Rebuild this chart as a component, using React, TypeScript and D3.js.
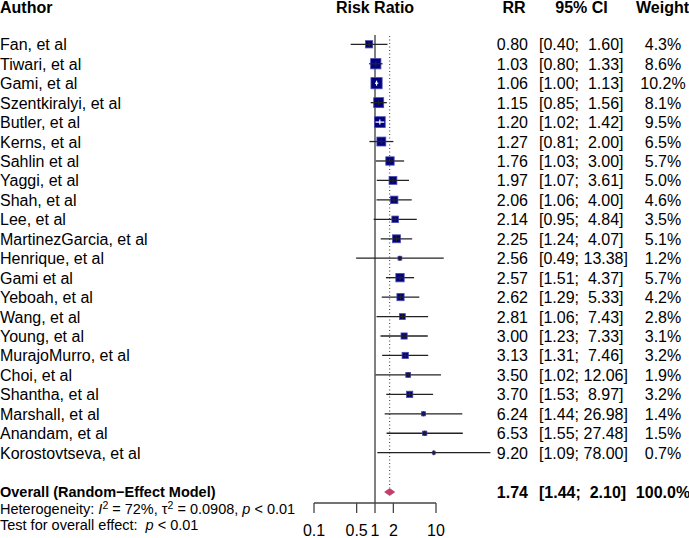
import React from "react";
import * as d3 from "d3";

const authors = ["Fan, et al","Tiwari, et al","Gami, et al","Szentkiralyi, et al","Butler, et al","Kerns, et al","Sahlin et al","Yaggi, et al","Shah, et al","Lee, et al","MartinezGarcia, et al","Henrique, et al","Gami et al","Yeboah, et al","Wang, et al","Young, et al","MurajoMurro, et al","Choi, et al","Shantha, et al","Marshall, et al","Anandam, et al","Korostovtseva, et al"];
const rr = [0.80,1.03,1.06,1.15,1.20,1.27,1.76,1.97,2.06,2.14,2.25,2.56,2.57,2.62,2.81,3.00,3.13,3.50,3.70,6.24,6.53,9.20];
const lower = [0.40,0.80,1.00,0.85,1.02,0.81,1.03,1.07,1.06,0.95,1.24,0.49,1.51,1.29,1.06,1.23,1.31,1.02,1.53,1.44,1.55,1.09];
const upper = [1.60,1.33,1.13,1.56,1.42,2.00,3.00,3.61,4.00,4.84,4.07,13.38,4.37,5.33,7.43,7.33,7.46,12.06,8.97,26.98,27.48,78.00];
const weight = [4.3,8.6,10.2,8.1,9.5,6.5,5.7,5.0,4.6,3.5,5.1,1.2,5.7,4.2,2.8,3.1,3.2,1.9,3.2,1.4,1.5,0.7];
const overall = { rr: 1.74, lower: 1.44, upper: 2.10, weight: 100.0 };
const tickValues = [0.1, 0.5, 1, 2, 10];
const tickLabels = ["0.1", "0.5", "1", "2", "10"];

const FONT = "'Liberation Sans', Arial, Helvetica, sans-serif";

function fmtCI(l: number, u: number) {
  const ls = l.toFixed(2);
  const us = u.toFixed(2);
  return `[${ls};${" ".repeat(Math.max(1, 6 - us.length))}${us}]`;
}

export default function App() {
  const W = 689, H = 538;
  const x = d3.scaleLog().domain([0.1, 10]).range([314, 436]);
  const y = d3.scaleLinear().domain([0, authors.length - 1]).range([44.3, 452.7]);
  const yOverall = 492;
  const boxSize = (w: number) => 3.5 * Math.sqrt(w);
  const x1 = x(1);
  const axisY = 503;
  const fs = 16;

  return (
    <svg width={W} height={H} style={{ position: "absolute", left: 0, top: 0, background: "#fff" }} fontFamily={FONT}>
      {/* headers */}
      <g fontWeight="bold" fontSize={16}>
        <text x={0} y={12.5}>Author</text>
        <text x={x1} y={12.5} textAnchor="middle">Risk Ratio</text>
        <text x={514} y={12.5} textAnchor="middle">RR</text>
        <text x={581.5} y={12.5} textAnchor="middle">95% CI</text>
        <text x={662.5} y={12.5} textAnchor="middle">Weight</text>
      </g>

      {/* reference lines */}
      <line x1={x1} x2={x1} y1={35} y2={axisY} stroke="#808080" strokeWidth={2} />
      <line x1={x(overall.rr)} x2={x(overall.rr)} y1={36} y2={488} stroke="#333" strokeWidth={1} strokeDasharray="1 2.5" />

      {/* studies */}
      {authors.map((a, i) => {
        const cy = y(i);
        const s = boxSize(weight[i]);
        const xl = x(lower[i]), xu = x(upper[i]), xe = x(rr[i]);
        const inside = xl >= xe - s / 2 && xu <= xe + s / 2;
        return (
          <g key={a + i}>
            <text x={0} y={cy + 6} fontSize={fs}>{a}</text>
            {!inside && <line x1={xl} x2={xu} y1={cy} y2={cy} stroke="#222" strokeWidth={1.3} />}
            <rect x={xe - s / 2} y={cy - s / 2} width={s} height={s} fill="#000080" stroke="#4a4ab0" strokeWidth={0.8} />
            <line x1={Math.max(xl, xe - s / 2)} x2={Math.min(xu, xe + s / 2)} y1={cy} y2={cy} stroke={inside ? "#fff" : "#222"} strokeWidth={1.3} />
            <line x1={xe} x2={xe} y1={cy - 2.5} y2={cy + 2.5} stroke={inside ? "#fff" : "#222"} strokeWidth={1.2} />
            <text x={528} y={cy + 6} fontSize={fs} textAnchor="end">{rr[i].toFixed(2)}</text>
            <text x={539} y={cy + 6} fontSize={fs} style={{ whiteSpace: "pre" }}>{fmtCI(lower[i], upper[i])}</text>
            <text x={663} y={cy + 6} fontSize={fs} textAnchor="middle">{weight[i].toFixed(1) + "%"}</text>
          </g>
        );
      })}

      {/* overall */}
      <g fontWeight="bold">
        <text x={0} y={yOverall + 5} fontSize={14.5}>Overall (Random−Effect Model)</text>
        <text x={528} y={yOverall + 6} fontSize={16} textAnchor="end">{overall.rr.toFixed(2)}</text>
        <text x={539} y={yOverall + 6} fontSize={16} style={{ whiteSpace: "pre" }}>{fmtCI(overall.lower, overall.upper)}</text>
        <text x={663} y={yOverall + 6} fontSize={16} textAnchor="middle">{overall.weight.toFixed(1) + "%"}</text>
      </g>
      <polygon
        points={`${x(overall.lower)},${yOverall} ${x(overall.rr)},${yOverall - 3.5} ${x(overall.upper)},${yOverall} ${x(overall.rr)},${yOverall + 3.5}`}
        fill="#C0406A"
        stroke="#C0406A"
        strokeWidth={0.8}
      />

      {/* stats */}
      <text x={0} y={514} fontSize={14.5}>
        <tspan>Heterogeneity: </tspan>
        <tspan fontStyle="italic">I</tspan>
        <tspan dy={-5} fontSize={10.5}>2</tspan>
        <tspan dy={5}> = 72%, τ</tspan>
        <tspan dy={-5} fontSize={10.5}>2</tspan>
        <tspan dy={5}> = 0.0908, </tspan>
        <tspan fontStyle="italic">p</tspan>
        <tspan> &lt; 0.01</tspan>
      </text>
      <text x={0} y={530} fontSize={14.5} style={{ whiteSpace: "pre" }}>
        <tspan>Test for overall effect:  </tspan>
        <tspan fontStyle="italic">p</tspan>
        <tspan> &lt; 0.01</tspan>
      </text>

      {/* axis */}
      <line x1={x(0.1)} x2={x(10)} y1={axisY} y2={axisY} stroke="#444" strokeWidth={1.3} />
      {tickValues.map((t, i) => (
        <g key={t}>
          <line x1={x(t)} x2={x(t)} y1={axisY} y2={axisY + 10} stroke="#444" strokeWidth={1.3} />
          <text x={x(t)} y={536} fontSize={16} textAnchor="middle">{tickLabels[i]}</text>
        </g>
      ))}
    </svg>
  );
}
